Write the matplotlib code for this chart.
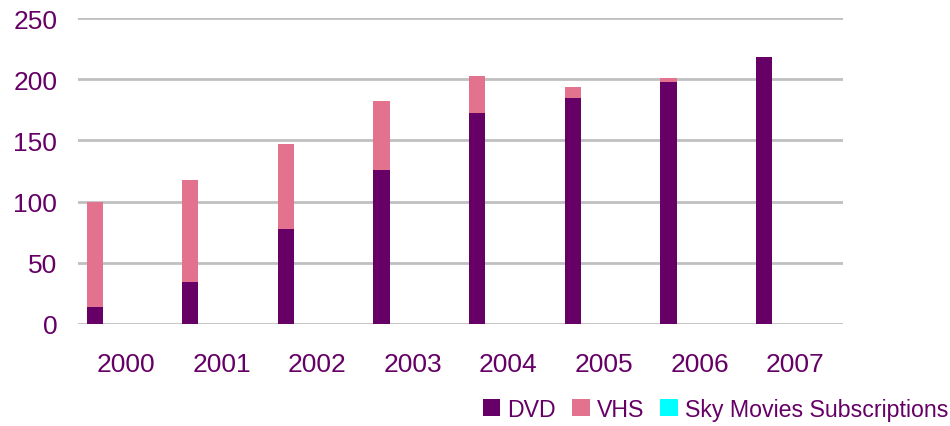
import matplotlib.pyplot as plt
import numpy as np

years = ['2000', '2001', '2002', '2003', '2004', '2005', '2006', '2007']
dvd = [14, 34, 78, 126, 172, 185, 198, 218]
vhs = [86, 84, 69, 56, 31, 9, 3, 0]
sky = [0, 0, 0, 0, 0, 0, 0, 0]

txt = '#660066'
plt.rcParams['font.family'] = ['Liberation Sans', 'DejaVu Sans']

fig = plt.figure(figsize=(9.5, 4.27), dpi=100)
ax = fig.add_axes([0.0821, 0.2389, 0.8053, 0.7166])

x = np.arange(len(years))
w = 0.17
ax.bar(x - 0.325, dvd, w, color='#660066', label='DVD', zorder=3)
ax.bar(x - 0.325, vhs, w, bottom=dvd, color='#E3728F', label='VHS', zorder=3)
ax.bar(x + 0.0, sky, w, color='#00FFFF', label='Sky Movies Subscriptions', zorder=3)

ax.set_xlim(-0.5, len(years) - 0.5)
ax.set_ylim(0, 250)
ax.set_yticks(range(0, 251, 50))
ax.set_xticks(x)
ax.set_xticklabels(years)
ax.grid(axis='y', color='#c0c0c0', linewidth=2, zorder=0)
for s in ax.spines.values():
    s.set_visible(False)
ax.tick_params(length=0, labelsize=19, colors=txt)
ax.tick_params(axis='y', pad=15)
ax.tick_params(axis='x', pad=20)

fig.legend(loc='lower right', bbox_to_anchor=(1.01, -0.015), ncol=3, frameon=False,
           fontsize=16.7, labelcolor=txt, handlelength=0.75, handleheight=0.75,
           handletextpad=0.3, columnspacing=0.7, borderaxespad=0.1)

fig.savefig('out.png', dpi=100)
